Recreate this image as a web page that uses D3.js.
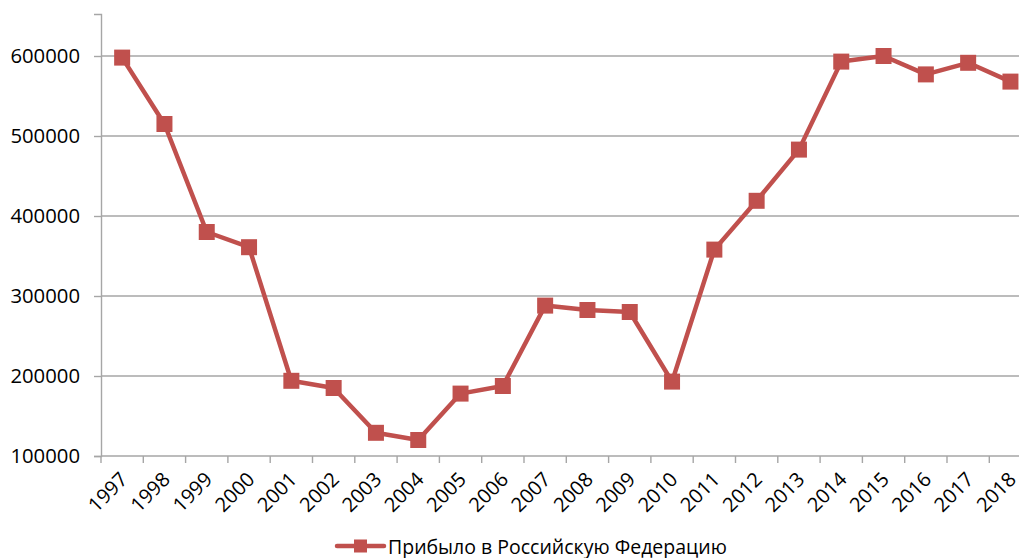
<!DOCTYPE html>
<html><head><meta charset="utf-8">
<script src="https://cdn.jsdelivr.net/npm/d3@7/dist/d3.min.js"></script>
<style>
html,body{margin:0;padding:0;background:#fff;overflow:hidden;}
svg{display:block;}
text{font-family:"Open Sans",sans-serif;fill:#000;}
</style></head>
<body>
<script>
const years = ["1997","1998","1999","2000","2001","2002","2003","2004","2005","2006","2007","2008","2009","2010","2011","2012","2013","2014","2015","2016","2017","2018"];
const profit = [598000,515000,380000,361000,194000,185000,129000,120000,178000,187500,288000,282500,280000,193000,358000,419000,483000,593000,600000,577000,591500,568000];
const yTicks = [100000,200000,300000,400000,500000,600000];
const seriesName = "Прибыло в Российскую Федерацию";

const W = 1019, H = 558;
const color = "#C0504D", gridColor = "#A6A6A6";
const svg = d3.select("body").append("svg").attr("width", W).attr("height", H);

const left = 101, bandW = 42.3;
const x = d3.scaleBand().domain(years).range([left, left + bandW * years.length]).padding(0);
const y = d3.scaleLinear().domain([100000, 652500]).range([456, 14]);

// gridlines
svg.append("g").selectAll("line").data(yTicks.slice(1)).join("line")
  .attr("x1", left).attr("x2", W).attr("y1", d => y(d)).attr("y2", d => y(d))
  .attr("stroke", gridColor).attr("stroke-width", 1.4);

// y axis
const yAxis = svg.append("g").attr("transform", `translate(${left},0)`)
  .call(d3.axisLeft(y).tickValues(yTicks).tickFormat(d3.format("d")).tickSize(7).tickPadding(14));
yAxis.select(".domain").attr("stroke", gridColor).attr("stroke-width", 1.4);
yAxis.selectAll(".tick line").attr("stroke", gridColor).attr("stroke-width", 1.4);
yAxis.selectAll("text").attr("font-size", "20.3px").attr("font-family", "Open Sans");

// x axis
const xAxis = svg.append("g").attr("transform", `translate(0,${y(100000)})`)
  .call(d3.axisBottom(x).tickSize(0).tickPadding(0));
xAxis.select(".domain").attr("stroke", gridColor).attr("stroke-width", 1.4).attr("d", `M${left},0H${left + bandW * years.length}`);
// ticks at band boundaries
svg.append("g").selectAll("line").data(years).join("line")
  .attr("x1", d => x(d)).attr("x2", d => x(d))
  .attr("y1", y(100000)).attr("y2", y(100000) + 7)
  .attr("stroke", gridColor).attr("stroke-width", 1.4);
xAxis.selectAll(".tick text")
  .attr("font-size", "20px").attr("font-family", "Open Sans")
  .attr("text-anchor", "end").attr("dy", null)
  .attr("transform", "translate(3,21) rotate(-45)")
  .attr("dominant-baseline", "middle");

// line
const cx = d => x(d) + x.bandwidth() / 2;
const line = d3.line().x((d, i) => cx(years[i])).y(d => y(d));
svg.append("path").datum(profit).attr("d", line)
  .attr("fill", "none").attr("stroke", color).attr("stroke-width", 4.5).attr("stroke-linejoin", "round");

const ms = 16;
svg.append("g").selectAll("rect").data(profit).join("rect")
  .attr("x", (d, i) => cx(years[i]) - ms / 2).attr("y", d => y(d) - ms / 2)
  .attr("width", ms).attr("height", ms).attr("fill", color);

// legend
const lg = svg.append("g").attr("transform", "translate(337,546)");
lg.append("line").attr("x1", 0).attr("x2", 47).attr("y1", 0).attr("y2", 0)
  .attr("stroke", color).attr("stroke-width", 4.5).attr("stroke-linecap", "round");
lg.append("rect").attr("x", 23.5 - 6.5).attr("y", -6.5).attr("width", 13).attr("height", 13).attr("fill", color);
lg.append("text").attr("x", 51).attr("y", 0).attr("dominant-baseline", "central")
  .attr("font-size", "19.5px").text(seriesName);
</script>
</body></html>
